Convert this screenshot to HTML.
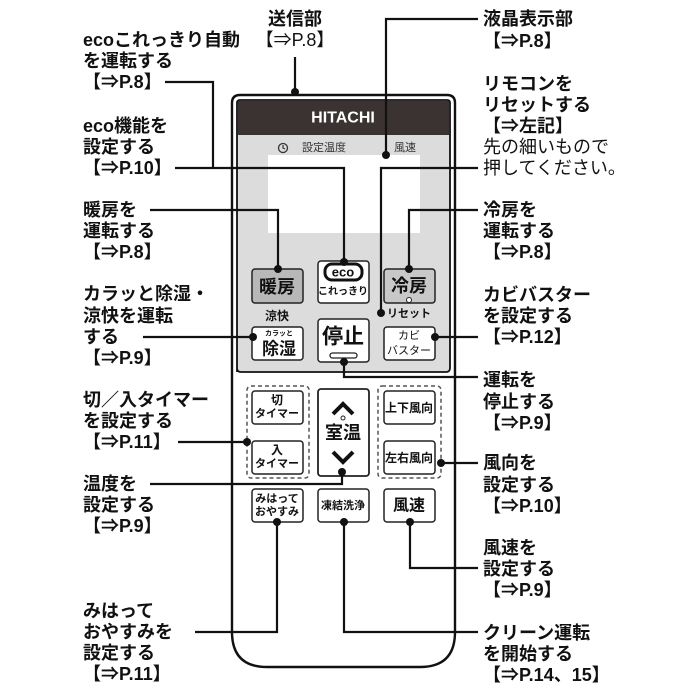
<!DOCTYPE html>
<html><head><meta charset="utf-8"><style>
html,body{margin:0;padding:0;background:#fff;}
svg{display:block;}
.t{font-family:"Liberation Sans","Noto Sans CJK JP",sans-serif;font-weight:bold;font-size:18px;fill:#111;dominant-baseline:central;}
.n{font-family:"Liberation Sans","Noto Sans CJK JP",sans-serif;font-size:18px;fill:#111;dominant-baseline:central;}
.b{font-family:"Liberation Sans","Noto Sans CJK JP",sans-serif;font-weight:bold;fill:#111;text-anchor:middle;dominant-baseline:central;}
.l{stroke:#111;stroke-width:2.2;fill:none;}
</style></head><body>
<svg width="700" height="700" viewBox="0 0 700 700" xmlns="http://www.w3.org/2000/svg">
<path d="M232,632 L232,103 Q232,95 240,95 L447,95 Q455,95 455,103 L455,632 Q455,667 420,667 L267,667 Q232,667 232,632 Z" fill="#fff" stroke="#111" stroke-width="2.4"/>
<path d="M237,372 L237,103 Q237,100 240,100 L447,100 Q450,100 450,103 L450,368 Q450,372 446,372 L241,372 Q237,372 237,368 Z" fill="#dcdcdc" stroke="#111" stroke-width="1.8"/>
<rect x="238" y="101" width="211" height="34" fill="#3b3332"/>
<text x="343" y="118" class="b" style="font-size:16px;fill:#fff">HITACHI</text>
<rect x="268" y="155" width="152" height="78" fill="#fff"/>
<circle cx="283" cy="148" r="4.5" fill="none" stroke="#333" stroke-width="1.3"/>
<path d="M283,145 L283,148 L285,149" stroke="#333" stroke-width="1.2" fill="none"/>
<text x="324" y="148" class="b" style="font-size:11px;fill:#333;font-weight:normal">設定温度</text>
<text x="405" y="148" class="b" style="font-size:11px;fill:#333;font-weight:normal">風速</text>
<rect x="252" y="269" width="51" height="34" rx="3" fill="#b8b8b8" stroke="#222" stroke-width="1.5"/>
<text x="277" y="287" class="b" style="font-size:18px">暖房</text>
<rect x="318" y="261" width="51" height="42" rx="3" fill="#fff" stroke="#222" stroke-width="1.5"/>
<rect x="325" y="264" width="37" height="16" rx="7" fill="#fff" stroke="#111" stroke-width="3"/>
<text x="343" y="272" class="b" style="font-size:13px">eco</text>
<text x="343" y="292" class="b" style="font-size:10px">これっきり</text>
<rect x="384" y="269" width="51" height="34" rx="3" fill="#c8c8c8" stroke="#222" stroke-width="1.5"/>
<text x="409" y="286" class="b" style="font-size:18px">冷房</text>
<circle cx="409" cy="300" r="2.5" fill="#fff" stroke="#222"/>
<text x="409" y="314" class="b" style="font-size:11px">リセット</text>
<text x="277" y="316" class="b" style="font-size:12px">涼快</text>
<rect x="252" y="327" width="51" height="33" rx="3" fill="#fff" stroke="#222" stroke-width="1.5"/>
<text x="279" y="334" class="b" style="font-size:7px">カラッと</text>
<text x="279" y="349" class="b" style="font-size:17px">除湿</text>
<rect x="318" y="319" width="51" height="43" rx="3" fill="#fff" stroke="#222" stroke-width="1.5"/>
<text x="343" y="337" class="b" style="font-size:21px">停止</text>
<rect x="330" y="353" width="27" height="5" rx="2.5" fill="#fff" stroke="#222" stroke-width="1.3"/>
<rect x="384" y="327" width="51" height="33" rx="3" fill="#fff" stroke="#222" stroke-width="1.5"/>
<text x="409" y="336" class="b" style="font-size:11px;font-weight:normal">カビ</text>
<text x="409" y="351" class="b" style="font-size:11px;font-weight:normal">バスター</text>
<rect x="247" y="386" width="62" height="92" rx="4" fill="none" stroke="#555" stroke-width="1.5" stroke-dasharray="4,3"/>
<rect x="378" y="386" width="63" height="92" rx="4" fill="none" stroke="#555" stroke-width="1.5" stroke-dasharray="4,3"/>
<rect x="252" y="391" width="51" height="33" rx="3" fill="#fff" stroke="#222" stroke-width="1.5"/>
<text x="277" y="400" class="b" style="font-size:12px">切</text>
<text x="277" y="414" class="b" style="font-size:11px">タイマー</text>
<rect x="252" y="441" width="51" height="33" rx="3" fill="#fff" stroke="#222" stroke-width="1.5"/>
<text x="277" y="450" class="b" style="font-size:12px">入</text>
<text x="277" y="464" class="b" style="font-size:11px">タイマー</text>
<rect x="318" y="389" width="51" height="87" rx="3" fill="#fff" stroke="#222" stroke-width="1.8"/>
<path d="M333,414 L343,404 L353,414" stroke="#111" stroke-width="4" fill="none"/>
<circle cx="343" cy="418" r="2" fill="#fff" stroke="#222"/>
<text x="343" y="433" class="b" style="font-size:18px">室温</text>
<path d="M333,452 L343,462 L353,452" stroke="#111" stroke-width="4" fill="none"/>
<rect x="384" y="391" width="51" height="33" rx="3" fill="#fff" stroke="#222" stroke-width="1.5"/>
<text x="409" y="408" class="b" style="font-size:12px">上下風向</text>
<rect x="384" y="441" width="51" height="33" rx="3" fill="#fff" stroke="#222" stroke-width="1.5"/>
<text x="409" y="458" class="b" style="font-size:12px">左右風向</text>
<rect x="252" y="489" width="51" height="33" rx="3" fill="#fff" stroke="#222" stroke-width="1.5"/>
<text x="277" y="499" class="b" style="font-size:11px">みはって</text>
<text x="277" y="512" class="b" style="font-size:11px">おやすみ</text>
<rect x="318" y="489" width="51" height="33" rx="3" fill="#fff" stroke="#222" stroke-width="1.5"/>
<text x="343" y="506" class="b" style="font-size:11px">凍結洗浄</text>
<rect x="384" y="489" width="51" height="33" rx="3" fill="#fff" stroke="#222" stroke-width="1.5"/>
<text x="409" y="506" class="b" style="font-size:16px">風速</text>
<g class="l">
<path d="M295,57 L295,92"/>
<path d="M478,19 L386,19 L386,155"/>
<path d="M165,82 L213,82 L213,168"/>
<path d="M175,168 L344,168 L344,262"/>
<path d="M478,168 L381,168 L381,315"/>
<path d="M150,210 L278,210 L278,269"/>
<path d="M478,210 L409,210 L409,269"/>
<path d="M143,337 L252,337"/>
<path d="M478,337 L435,337"/>
<path d="M344,362 L344,377 L478,377"/>
<path d="M178,442 L247,442"/>
<path d="M150,484 L342,484 L342,472"/>
<path d="M478,463 L441,463"/>
<path d="M410,522 L410,568 L478,568"/>
<path d="M277,522 L277,632 L195,632"/>
<path d="M344,522 L344,632 L478,632"/>
</g>
<g fill="#111">
<circle cx="295" cy="92" r="4"/><circle cx="386" cy="155" r="4"/><circle cx="344" cy="262" r="4"/>
<circle cx="381" cy="313" r="4"/><circle cx="278" cy="269" r="4"/><circle cx="409" cy="269" r="4"/>
<circle cx="253" cy="337" r="4"/><circle cx="435" cy="337" r="4"/><circle cx="344" cy="362" r="4"/>
<circle cx="247" cy="442" r="4"/><circle cx="342" cy="472" r="4"/><circle cx="441" cy="463" r="4"/>
<circle cx="410" cy="522" r="4"/><circle cx="277" cy="522" r="4"/><circle cx="344" cy="522" r="4"/>
</g>
<text x="295" y="19" class="b" style="font-size:18px">送信部</text>
<text x="295" y="40" class="b" style="font-size:18px;font-weight:normal">【⇒P.8】</text>
<text x="83" y="40" class="t">ecoこれっきり自動</text>
<text x="83" y="61" class="t">を運転する</text>
<text x="83" y="82" class="t">【⇒P.8】</text>
<text x="83" y="126" class="t">eco機能を</text>
<text x="83" y="147" class="t">設定する</text>
<text x="83" y="168" class="t">【⇒P.10】</text>
<text x="83" y="210" class="t">暖房を</text>
<text x="83" y="231" class="t">運転する</text>
<text x="83" y="252" class="t">【⇒P.8】</text>
<text x="83" y="294" class="t">カラッと除湿・</text>
<text x="83" y="316" class="t">涼快を運転</text>
<text x="83" y="337" class="t">する</text>
<text x="83" y="358" class="t">【⇒P.9】</text>
<text x="83" y="400" class="t">切／入タイマー</text>
<text x="83" y="421" class="t">を設定する</text>
<text x="83" y="442" class="t">【⇒P.11】</text>
<text x="83" y="484" class="t">温度を</text>
<text x="83" y="505" class="t">設定する</text>
<text x="83" y="526" class="t">【⇒P.9】</text>
<text x="83" y="611" class="t">みはって</text>
<text x="83" y="632" class="t">おやすみを</text>
<text x="83" y="653" class="t">設定する</text>
<text x="83" y="674" class="t">【⇒P.11】</text>
<text x="483" y="19" class="t">液晶表示部</text>
<text x="483" y="41" class="t">【⇒P.8】</text>
<text x="483" y="84" class="t">リモコンを</text>
<text x="483" y="105" class="t">リセットする</text>
<text x="483" y="126" class="t">【⇒左記】</text>
<text x="483" y="147" class="n">先の細いもので</text>
<text x="483" y="168" class="n">押してください。</text>
<text x="483" y="210" class="t">冷房を</text>
<text x="483" y="231" class="t">運転する</text>
<text x="483" y="252" class="t">【⇒P.8】</text>
<text x="483" y="295" class="t">カビバスター</text>
<text x="483" y="316" class="t">を設定する</text>
<text x="483" y="337" class="t">【⇒P.12】</text>
<text x="483" y="380" class="t">運転を</text>
<text x="483" y="402" class="t">停止する</text>
<text x="483" y="423" class="t">【⇒P.9】</text>
<text x="483" y="463" class="t">風向を</text>
<text x="483" y="485" class="t">設定する</text>
<text x="483" y="506" class="t">【⇒P.10】</text>
<text x="483" y="548" class="t">風速を</text>
<text x="483" y="569" class="t">設定する</text>
<text x="483" y="590" class="t">【⇒P.9】</text>
<text x="483" y="633" class="t">クリーン運転</text>
<text x="483" y="654" class="t">を開始する</text>
<text x="483" y="675" class="t">【⇒P.14、15】</text>
</svg>
</body></html>
